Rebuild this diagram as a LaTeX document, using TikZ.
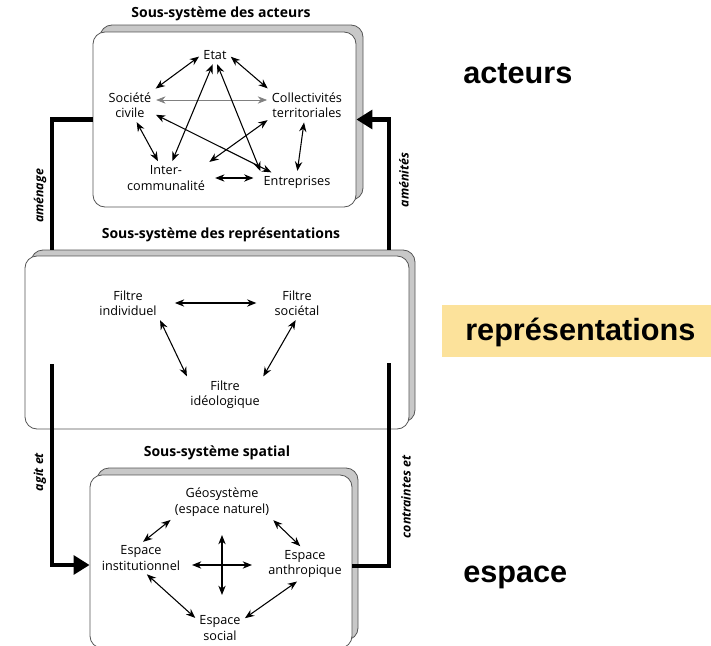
\documentclass[tikz,border=0pt]{standalone}
\usepackage{fontspec}
\setmainfont{Open Sans}
\newfontfamily\arialfont{Liberation Sans}
\usetikzlibrary{arrows.meta,fit}

\definecolor{cadre}{RGB}{85,85,85}
\definecolor{ombre}{RGB}{200,200,200}
\definecolor{surligne}{RGB}{252,226,155}

\tikzset{
	ombrebox/.style={draw=cadre, fill=ombre, rounded corners=9pt, line width=0.6pt, inner sep=0pt},
	cadrebox/.style={draw=cadre, fill=white, rounded corners=9pt, line width=0.6pt, inner sep=0pt},
	txt/.style={font=\fontsize{9.5}{11.5}\selectfont, align=center, inner sep=1.5pt},
	titre/.style={font=\bfseries\fontsize{10.5}{12}\selectfont, inner sep=1pt},
	biarrow/.style={{Stealth[length=7pt,width=5.5pt]}-{Stealth[length=7pt,width=5.5pt]}, line width=0.8pt, shorten <=2pt, shorten >=2pt},
	flux/.style={line width=3.6pt},
	fluxarrow/.style={line width=3.6pt, -{Triangle[length=12pt,width=14pt]}},
	vert/.style={font=\bfseries\itshape\fontsize{9.3}{11}\selectfont, rotate=90, inner sep=1pt},
	grand/.style={font=\arialfont\bfseries\fontsize{23}{26}\selectfont, inner sep=0pt}
}

\begin{document}
\begin{tikzpicture}[x=0.75pt,y=0.75pt,yscale=-1,xscale=1]
	\useasboundingbox (0,0) rectangle (711,646);
	
	%Shape: Rounded Rect (acteurs)
	\node [ombrebox, fit={(100,25) (363,200)}] (actO) {};
	\node [cadrebox, fit={(93,32) (356,207)}] (act) {};
	%Shape: Rounded Rect (representations)
	\node [ombrebox, fit={(31,250) (415,422)}] (repO) {};
	\node [cadrebox, fit={(25,256) (409,429)}] (rep) {};
	%Shape: Rounded Rect (spatial)
	\node [ombrebox, fit={(97,468) (358,640)}] (spaO) {};
	\node [cadrebox, fit={(90,475) (352,648)}] (spa) {};
	
	% Text Node
	\node [titre] (tact) at (221,14) {Sous-système des acteurs};
	\node [titre] (trep) at (221,235) {Sous-système des représentations};
	\node [titre] (tspa) at (217,453) {Sous-système spatial};
	
	% Text Node (acteurs)
	\node [txt] (etat) at (215,55) {Etat};
	\node [txt] (soc) at (130,105) {Société\\civile};
	\node [txt] (coll) at (307,105) {Collectivités\\territoriales};
	\node [txt] (inter) at (166,178) {Inter-\\communalité};
	\node [txt] (entr) at (297,182) {Entreprises};
	
	\draw [biarrow] (etat.west) -- (soc.north east);
	\draw [biarrow] (etat.east) -- (coll.north west);
	\draw [biarrow, draw=gray, line width=0.5pt] (soc.12) -- (soc.12 -| coll.west);
	\draw [biarrow] (soc.-70) -- (inter.115);
	\draw [biarrow] (coll.-100) -- (entr.north);
	\draw [biarrow, shorten <=6pt, shorten >=6pt] (inter.east) -- (inter.east -| entr.west);
	\draw [biarrow] (etat.-100) -- (inter.70);
	\draw [biarrow] (etat.-80) -- (entr.north west);
	\draw [biarrow] (soc.-20) -- (entr.160);
	\draw [biarrow] (coll.-160) -- (inter.north east);
	
	% Text Node (representations)
	\node [txt] (find) at (128,303) {Filtre\\individuel};
	\node [txt] (fsoc) at (297,303) {Filtre\\sociétal};
	\node [txt] (fideo) at (225,395) {Filtre\\idéologique};
	
	\draw [biarrow, shorten <=12pt, shorten >=12pt] (find.east) -- (find.east -| fsoc.west);
	\draw [biarrow] (find.south east) -- (fideo.north west);
	\draw [biarrow] (fsoc.south) -- (fideo.north east);
	
	% Text Node (spatial)
	\node [txt] (geo) at (222,502) {Géosystème\\(espace naturel)};
	\node [txt] (inst) at (141,558) {Espace\\institutionnel};
	\node [txt] (anthr) at (305,564) {Espace\\anthropique};
	\node [txt] (esoc) at (220,628) {Espace\\social};
	\coordinate (croix) at (222,565);
	
	\draw [biarrow] (geo.south west) -- (inst.north);
	\draw [biarrow] (geo.south east) -- (anthr.100);
	\draw [biarrow] (inst.-75) -- (esoc.160);
	\draw [biarrow] (anthr.-110) -- (esoc.20);
	\draw [biarrow, shorten <=0pt, shorten >=0pt] (croix) ++(-30,0) -- ++(60,0);
	\draw [biarrow, shorten <=0pt, shorten >=0pt] (croix) ++(0,-30) -- ++(0,60);
	
	% Thick connectors
	\coordinate (xg) at (52,0);
	\coordinate (xd) at (389,0);
	\coordinate (agitH) at (52,364);
	\coordinate (agitB) at (52,565);
	\coordinate (contrH) at (389,363);
	\coordinate (contrB) at (389,566);
	\draw [flux] (xg |- repO.north) -- (xg |- act.west) -- (act.west);
	\draw [fluxarrow] (xd |- repO.north) -- (xd |- act.east) -- (act.east);
	\draw [fluxarrow] (agitH) -- (agitB) -- (agitB -| spa.west);
	\draw [flux] (contrB -| spa.east) -- (contrB) -- (contrH);
	
	% Text Node (rotated)
	\node [vert] (lamen) at (40,196) {aménage};
	\node [vert] (lamenit) at (404,180) {aménités};
	\node [vert] (lagit) at (40,472) {agit et};
	\node [vert] (lcontr) at (406,497) {contraintes et};
	
	% Text Node (right)
	\fill [surligne] (442,305) rectangle (711,357);
	\node [grand, anchor=base west] (kact) at (463,83) {acteurs};
	\node [grand, anchor=base west] (krep) at (465,340) {représentations};
	\node [grand, anchor=base west] (kesp) at (463,582) {espace};
\end{tikzpicture}
\end{document}
